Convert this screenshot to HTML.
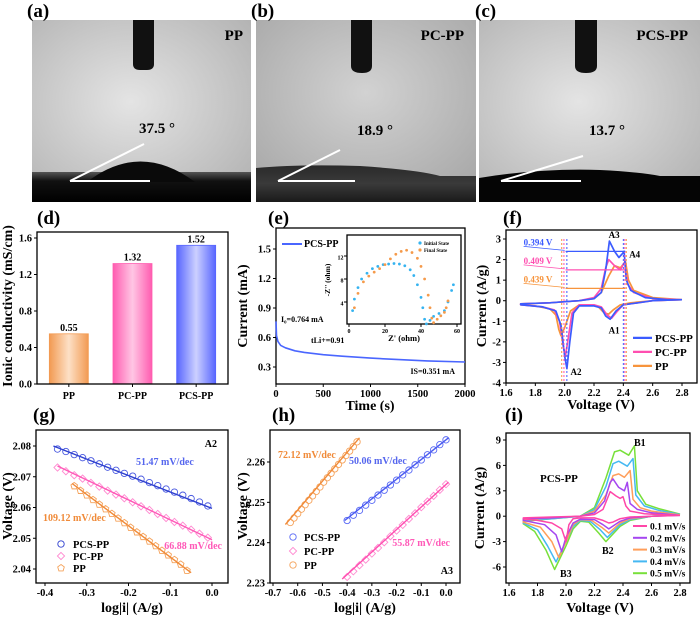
<!DOCTYPE html>
<html><head><meta charset="utf-8">
<style>
html,body{margin:0;padding:0;background:#fff;}
svg{display:block;font-family:"Liberation Serif",serif;font-weight:bold;}
</style></head>
<body>
<svg id="fig" width="700" height="618" viewBox="0 0 700 618" xmlns="http://www.w3.org/2000/svg">
<defs>
<radialGradient id="bgA" cx="0.45" cy="0.45" r="0.7"><stop offset="0" stop-color="#e4e4e4"/><stop offset="1" stop-color="#b4b4b4"/></radialGradient>
<radialGradient id="bgB" cx="0.5" cy="0.4" r="0.7"><stop offset="0" stop-color="#d2d2d2"/><stop offset="1" stop-color="#a8a8a8"/></radialGradient>
<linearGradient id="darkA" x1="0" y1="0" x2="0" y2="1"><stop offset="0" stop-color="#555"/><stop offset="0.3" stop-color="#111"/><stop offset="1" stop-color="#000"/></linearGradient>
<linearGradient id="darkB" x1="0" y1="0" x2="0" y2="1"><stop offset="0" stop-color="#2a2a2a"/><stop offset="0.5" stop-color="#3a3a3a"/><stop offset="1" stop-color="#1a1a1a"/></linearGradient>
<linearGradient id="barO" x1="0" x2="1"><stop offset="0" stop-color="#f29a52"/><stop offset="0.5" stop-color="#fde0c6"/><stop offset="1" stop-color="#f29a52"/></linearGradient>
<linearGradient id="barP" x1="0" x2="1"><stop offset="0" stop-color="#ff5cb0"/><stop offset="0.5" stop-color="#ffc6e4"/><stop offset="1" stop-color="#ff5cb0"/></linearGradient>
<linearGradient id="barB" x1="0" x2="1"><stop offset="0" stop-color="#5866ff"/><stop offset="0.5" stop-color="#ccd0ff"/><stop offset="1" stop-color="#5866ff"/></linearGradient>
</defs>

<g>
<rect x="32" y="20" width="219" height="182" fill="url(#bgA)"/>
<rect x="32" y="172" width="219" height="30" fill="url(#darkA)"/>
<path d="M87,182 Q140,141 195,182 Z" fill="#0a0a0a"/>
<path d="M133,20 L154,20 L154,64 Q154,70 147,70 L140,70 Q133,70 133,64 Z" fill="#111"/>
<line x1="70" y1="181" x2="144" y2="144" stroke="#fff" stroke-width="2"/>
<line x1="70" y1="181" x2="150" y2="181" stroke="#fff" stroke-width="2"/>
<text x="157" y="133" font-size="15" text-anchor="middle">37.5 °</text>
<text x="243" y="40" font-size="15" text-anchor="end">PP</text>
</g>
<g>
<rect x="256" y="20" width="220" height="182" fill="url(#bgB)"/>
<path d="M256,202 L256,168 Q300,164 360,166 Q420,170 440,176 L476,176 L476,202 Z" fill="url(#darkB)"/>
<path d="M351,20 L372,20 L372,66 Q372,73 362,73 Q351,73 351,66 Z" fill="#111"/>
<line x1="278" y1="181" x2="340" y2="150" stroke="#fff" stroke-width="2"/>
<line x1="278" y1="181" x2="355" y2="181" stroke="#fff" stroke-width="2"/>
<text x="375" y="135" font-size="15" text-anchor="middle">18.9 °</text>
<text x="464" y="40" font-size="15" text-anchor="end">PC-PP</text>
</g>
<g>
<rect x="479" y="20" width="221" height="182" fill="url(#bgA)"/>
<path d="M479,202 L479,178 Q540,168 600,170 Q640,172 660,176 L700,176 L700,202 Z" fill="#050505"/>
<path d="M575,20 L597,20 L597,66 Q597,73 586,73 Q575,73 575,66 Z" fill="#111"/>
<line x1="501" y1="181" x2="583" y2="156" stroke="#fff" stroke-width="2"/>
<line x1="501" y1="181" x2="581" y2="181" stroke="#fff" stroke-width="2"/>
<text x="607" y="135" font-size="15" text-anchor="middle">13.7 °</text>
<text x="688" y="40" font-size="15" text-anchor="end">PCS-PP</text>
</g>
<text x="27" y="17" font-size="19">(a)</text>
<text x="251" y="17" font-size="19">(b)</text>
<text x="475" y="17" font-size="19">(c)</text>
<text x="37" y="224" font-size="19">(d)</text>
<text x="268" y="224" font-size="19">(e)</text>
<text x="503" y="224" font-size="19">(f)</text>
<text x="33" y="421" font-size="19">(g)</text>
<text x="272" y="421" font-size="19">(h)</text>
<text x="505" y="421" font-size="19">(i)</text>
</svg>
<script>
const dCats=['PP','PC-PP','PCS-PP'];
const dVals=[0.55,1.32,1.52];
const dTicks=[0.0,0.4,0.8,1.2,1.6];

const eTime=[0,5,20,50,100,200,300,500,700,1000,1300,1600,2000];
const eCurr=[0.764,0.62,0.56,0.52,0.495,0.465,0.448,0.425,0.41,0.39,0.375,0.362,0.351];
const eXTicks=[0,500,1000,1500,2000];
const eYTicks=[0.3,0.6,0.9,1.2,1.5];
const insInitZr=[2,3,5,7,10,13,16,19,22,25,28,31,34,36,38,40,41,42,43,45,47,50,53,55,57,58];
const insInitZi=[2.5,4.5,6.5,8,9,9.8,10.2,10.5,10.6,10.7,10.6,10.3,9.6,8.6,7,4.8,3,1,0.2,0.8,1.5,2,2.5,4,6,7];
const insFinZr=[3,5,8,11,14,17,20,23,26,29,32,35,38,40,42,44,45,46,47,49,51,53,54,55];
const insFinZi=[3,5.5,7.5,8.5,9.2,9.8,10.5,11.5,12.3,12.8,13,12.6,11.6,10.2,8,5.2,3,1.2,0.4,1,1.6,2.2,3,4.2];

const fPCS=[[2.8,0.05],[2.6,0],[2.5,-0.1],[2.4,-0.2],[2.35,-0.5],[2.31,-0.9],[2.28,-0.75],[2.25,-0.35],[2.2,-0.25],[2.1,-0.25],[2.06,-0.6],[2.035,-2.0],[2.015,-3.3],[2.0,-2.7],[1.975,-1.2],[1.94,-0.5],[1.85,-0.3],[1.7,-0.2],[1.7,-0.15],[1.9,-0.1],[2.0,-0.05],[2.1,0],[2.2,0.1],[2.25,0.4],[2.28,1.5],[2.305,2.9],[2.34,2.4],[2.37,2.1],[2.395,2.3],[2.405,2.4],[2.42,1.0],[2.45,0.5],[2.55,0.15],[2.7,0.05],[2.8,0.05]];
const fPC=[[2.8,0.05],[2.6,0],[2.5,-0.1],[2.4,-0.2],[2.36,-0.5],[2.32,-0.85],[2.29,-0.7],[2.25,-0.3],[2.2,-0.2],[2.1,-0.2],[2.05,-0.6],[2.025,-1.8],[2.005,-2.7],[1.99,-2.2],[1.965,-1.0],[1.93,-0.45],[1.85,-0.3],[1.7,-0.2],[1.7,-0.15],[1.9,-0.1],[2.0,-0.05],[2.1,0],[2.2,0.15],[2.25,0.6],[2.28,1.6],[2.3,2.0],[2.34,1.7],[2.38,1.5],[2.41,1.9],[2.43,0.8],[2.47,0.4],[2.6,0.1],[2.8,0.05]];
const fPP=[[2.8,0.05],[2.6,0],[2.45,-0.1],[2.38,-0.2],[2.33,-0.45],[2.3,-0.65],[2.27,-0.6],[2.23,-0.3],[2.18,-0.2],[2.1,-0.2],[2.04,-0.5],[2.0,-1.3],[1.975,-1.7],[1.96,-1.4],[1.94,-0.7],[1.9,-0.4],[1.8,-0.25],[1.7,-0.2],[1.7,-0.15],[1.9,-0.1],[2.0,-0.05],[2.1,0],[2.2,0.1],[2.25,0.4],[2.3,1.2],[2.34,1.7],[2.38,1.6],[2.415,1.9],[2.435,1.0],[2.47,0.5],[2.6,0.15],[2.8,0.05]];
const fXTicks=[1.6,1.8,2.0,2.2,2.4,2.6,2.8];
const fYTicks=[-4,-3,-2,-1,0,1,2,3];

const gPcsX=[-0.37,-0.35,-0.33,-0.31,-0.29,-0.27,-0.25,-0.23,-0.21,-0.19,-0.17,-0.15,-0.13,-0.11,-0.09,-0.07,-0.05,-0.03,-0.01];
const gPcsY=[2.0790,2.0782,2.0772,2.0762,2.0752,2.0742,2.0731,2.0721,2.0711,2.0702,2.0692,2.0681,2.0671,2.0660,2.0650,2.0640,2.0629,2.0618,2.0605];
const gPcsFit=[[-0.38,2.0800],[0,2.0597]];
const gPcX=[-0.37,-0.35,-0.33,-0.31,-0.29,-0.27,-0.25,-0.23,-0.21,-0.19,-0.17,-0.15,-0.13,-0.11,-0.09,-0.07,-0.05,-0.03,-0.01];
const gPcY=[2.0730,2.0718,2.0705,2.0694,2.0680,2.0668,2.0655,2.0642,2.0630,2.0617,2.0604,2.0592,2.0579,2.0566,2.0553,2.0541,2.0528,2.0515,2.0502];
const gPcFit=[[-0.37,2.0735],[0,2.0495]];
const gPpX=[-0.33,-0.315,-0.30,-0.285,-0.27,-0.255,-0.24,-0.225,-0.21,-0.195,-0.18,-0.165,-0.15,-0.135,-0.12,-0.105,-0.09,-0.075,-0.06];
const gPpY=[2.0670,2.0655,2.0640,2.0625,2.0610,2.0595,2.0580,2.0565,2.0550,2.0535,2.0520,2.0505,2.0490,2.0475,2.0460,2.0445,2.0430,2.0415,2.0395];
const gPpFit=[[-0.335,2.0678],[-0.05,2.0388]];
const gXTicks=[-0.4,-0.3,-0.2,-0.1,0.0];
const gYTicks=[2.04,2.05,2.06,2.07,2.08];

const hPpX=[-0.63,-0.615,-0.60,-0.585,-0.57,-0.555,-0.54,-0.525,-0.51,-0.495,-0.48,-0.465,-0.45,-0.435,-0.42,-0.405,-0.39,-0.375,-0.36];
const hPpY=[2.2450,2.2461,2.2472,2.2483,2.2494,2.2505,2.2516,2.2527,2.2538,2.2550,2.2561,2.2572,2.2583,2.2594,2.2605,2.2616,2.2627,2.2638,2.2650];
const hPpFit=[[-0.65,2.2445],[-0.35,2.266]];
const hPcsX=[-0.4,-0.375,-0.35,-0.325,-0.3,-0.275,-0.25,-0.225,-0.2,-0.175,-0.15,-0.125,-0.1,-0.075,-0.05,-0.025,0];
const hPcsY=[2.2455,2.2468,2.2480,2.2493,2.2505,2.2518,2.2530,2.2543,2.2555,2.2568,2.2580,2.2593,2.2605,2.2618,2.2630,2.2643,2.2655];
const hPcsFit=[[-0.41,2.2455],[0.01,2.266]];
const hPcX=[-0.4,-0.375,-0.35,-0.325,-0.3,-0.275,-0.25,-0.225,-0.2,-0.175,-0.15,-0.125,-0.1,-0.075,-0.05,-0.025,0];
const hPcY=[2.2315,2.2329,2.2344,2.2358,2.2373,2.2387,2.2401,2.2416,2.2430,2.2444,2.2459,2.2473,2.2488,2.2502,2.2516,2.2531,2.2545];
const hPcFit=[[-0.42,2.231],[0.01,2.255]];
const hXTicks=[-0.7,-0.6,-0.5,-0.4,-0.3,-0.2,-0.1,0.0];
const hYTicks=[2.23,2.24,2.25,2.26];

const i01=[[2.8,0.1],[2.6,0],[2.45,-0.1],[2.38,-0.3],[2.33,-0.7],[2.3,-0.8],[2.26,-0.5],[2.2,-0.2],[2.1,-0.2],[2.05,-0.3],[2.02,-1.0],[2.0,-3.0],[1.97,-1.5],[1.9,-0.8],[1.8,-0.5],[1.7,-0.3],[1.7,-0.2],[1.9,-0.1],[2.1,0],[2.2,0.2],[2.26,0.8],[2.31,2.9],[2.35,2.4],[2.38,2.1],[2.40,2.3],[2.42,1.2],[2.45,0.6],[2.55,0.3],[2.7,0.15],[2.8,0.1]];
const i02=[[2.8,0.1],[2.6,0],[2.45,-0.2],[2.38,-0.6],[2.3,-1.5],[2.26,-1.0],[2.2,-0.4],[2.1,-0.35],[2.05,-0.8],[2.0,-2.5],[1.97,-4.2],[1.93,-2.2],[1.85,-1.0],[1.7,-0.5],[1.7,-0.3],[1.9,-0.2],[2.1,0],[2.2,0.4],[2.27,1.8],[2.31,4.0],[2.33,4.4],[2.37,3.4],[2.41,3.0],[2.43,4.0],[2.45,1.5],[2.5,0.8],[2.6,0.4],[2.8,0.1]];
const i03=[[2.8,0.15],[2.6,0],[2.45,-0.3],[2.38,-0.8],[2.3,-2.0],[2.25,-1.3],[2.18,-0.5],[2.1,-0.4],[2.05,-1.0],[2.0,-3.0],[1.95,-4.9],[1.9,-3.0],[1.82,-1.3],[1.7,-0.7],[1.7,-0.4],[1.9,-0.2],[2.1,0],[2.2,0.6],[2.28,2.5],[2.33,4.8],[2.37,5.0],[2.41,4.6],[2.45,5.4],[2.47,2.0],[2.52,1.0],[2.6,0.6],[2.8,0.15]];
const i04=[[2.8,0.2],[2.6,0],[2.45,-0.4],[2.38,-1.0],[2.29,-2.5],[2.24,-1.6],[2.17,-0.6],[2.1,-0.5],[2.05,-1.2],[2.0,-3.0],[1.93,-5.4],[1.87,-3.5],[1.8,-1.6],[1.7,-0.8],[1.7,-0.5],[1.9,-0.3],[2.1,0],[2.2,0.8],[2.28,3.5],[2.33,6.2],[2.37,6.5],[2.43,5.9],[2.47,6.8],[2.49,2.5],[2.55,1.2],[2.65,0.7],[2.8,0.2]];
const i05=[[2.8,0.25],[2.6,0],[2.45,-0.5],[2.38,-1.2],[2.28,-3.0],[2.23,-2.0],[2.16,-0.7],[2.1,-0.6],[2.05,-1.5],[2.0,-3.5],[1.92,-6.3],[1.86,-4.0],[1.78,-1.8],[1.7,-0.9],[1.7,-0.6],[1.9,-0.3],[2.1,0],[2.2,1.0],[2.28,4.5],[2.34,7.6],[2.38,7.8],[2.44,7.2],[2.48,8.3],[2.50,3.0],[2.56,1.4],[2.65,0.9],[2.8,0.25]];
const iRates=['0.1 mV/s','0.2 mV/s','0.3 mV/s','0.4 mV/s','0.5 mV/s'];
const iXTicks=[1.6,1.8,2.0,2.2,2.4,2.6,2.8];
const iYTicks=[-6,-3,0,3,6,9];

const NS='http://www.w3.org/2000/svg';
const svg=document.getElementById('fig');
function el(tag,attrs,parent){const e=document.createElementNS(NS,tag);for(const k in attrs)e.setAttribute(k,attrs[k]);(parent||svg).appendChild(e);return e;}
function txt(x,y,s,attrs,parent){const t=el('text',Object.assign({x:x,y:y},attrs||{}),parent);t.textContent=s;return t;}
function lin(d0,d1,r0,r1){return v=>r0+(v-d0)*(r1-r0)/(d1-d0);}
function fmt(v,n){return v.toFixed(n);}
function frame(g,x0,y0,x1,y1){const r=el('rect',{x:x0,y:y0,width:x1-x0,height:y1-y0,fill:'none',stroke:'#000','stroke-width':1.3},g);

}
function xTicks(g,ticks,xs,yb,dec,fs){ticks.forEach(v=>{const x=xs(v);
const l=el('line',{x1:x,y1:yb,x2:x,y2:yb+3,stroke:'#000','stroke-width':1},g);


const t=txt(x,yb+(fs?fs+3:13),fmt(v,dec),{'font-size':fs||10.5,'text-anchor':'middle'},g);

});}
function yTicks(g,ticks,ys,xl,dec,fs){ticks.forEach(v=>{const y=ys(v);
const l=el('line',{x1:xl-3,y1:y,x2:xl,y2:y,stroke:'#000','stroke-width':1},g);


const t=txt(xl-(fs?3.5:5),y+3.5,fmt(v,dec),{'font-size':fs||10.5,'text-anchor':'end'},g);

});}
function yTitle(g,x,y,s,fs){const t=txt(x,y,s,{'font-size':fs||14,'text-anchor':'middle',transform:'rotate(-90 '+x+' '+y+')'},g);

}
function xTitle(g,x,y,s,fs){const t=txt(x,y,s,{'font-size':fs||14,'text-anchor':'middle'},g);

}
function poly(g,pts,xs,ys,color,w,dash){const p=el('polyline',{points:pts.map(q=>xs(q[0]).toFixed(1)+','+ys(q[1]).toFixed(1)).join(' '),fill:'none',stroke:color,'stroke-width':w||1.6,'stroke-linejoin':'round'},g);if(dash)p.setAttribute('stroke-dasharray',dash);return p;}
function label(g,x,y,s,color,fs,anchor){const t=txt(x,y,s,{'font-size':fs||10,fill:color||'#000','text-anchor':anchor||'start'},g);

return t;}
function marker(g,shape,x,y,color){let m;
if(shape==='circle'){m=el('circle',{cx:x,cy:y,r:3.2,fill:'none',stroke:color,'stroke-width':0.9},g);}
else if(shape==='diamond'){m=el('polygon',{points:[x,y-3.6,x+3.6,y,x,y+3.6,x-3.6,y].join(','),fill:'none',stroke:color,'stroke-width':0.9},g);}
else {m=el('polygon',{points:[x,y-3.5,x+3.3,y-1.1,x+2.1,y+2.9,x-2.1,y+2.9,x-3.3,y-1.1].join(','),fill:'none',stroke:color,'stroke-width':0.9},g);}
return m;}

(function(){const g=el('g',{});


const X0=37,X1=228,Y0=232,Y1=384;const ys=lin(0,1.6,384,238);
const fills=['url(#barO)','url(#barP)','url(#barB)'];const strokes=['#f29a52','#ff5cb0','#5866ff'];
const bw=(X1-X0)/3;
dCats.forEach((c,i)=>{const cx=X0+bw*(i+0.5);const y=ys(dVals[i]);
const b=el('rect',{x:cx-19.5,y:y,width:39,height:384-y,fill:fills[i],stroke:strokes[i],'stroke-width':0.8},g);


const v=txt(cx,y-3,fmt(dVals[i],2),{'font-size':10,'text-anchor':'middle'},g);


const tk=el('line',{x1:cx,y1:Y1,x2:cx,y2:Y1+3,stroke:'#000'},g);


const t=txt(cx,Y1+15,c,{'font-size':10,'text-anchor':'middle'},g);

});
frame(g,X0,Y0,X1,Y1);
yTicks(g,dTicks,ys,X0,1);
yTitle(g,12,306,'Ionic conductivity (mS/cm)',14);})();

(function(){const g=el('g',{});


const X0=276,X1=465,Y0=228,Y1=384;const xs=lin(0,2000,276,465),ys=lin(0.3,1.5,367,249);
frame(g,X0,Y0,X1,Y1);
xTicks(g,eXTicks,xs,Y1,0);yTicks(g,eYTicks,ys,X0,1);
yTitle(g,247,306,'Current (mA)',14);xTitle(g,370,410,'Time (s)',14);
const pts=eTime.map((t,i)=>[t,eCurr[i]]);
const c=poly(g,pts,xs,ys,'#4a66ff',1.6);


const ll=el('line',{x1:282,y1:244,x2:302,y2:244,stroke:'#4a66ff','stroke-width':2},g);


label(g,304,247,'PCS-PP','#000',10);
label(g,281,322,'I₀=0.764 mA','#000',8);
label(g,311,343,'tLi+=0.91','#000',8);
label(g,455,374,'IS=0.351 mA','#000',8,'end');
const ig=el('g',{},g);


const IX0=347,IX1=461,IY0=235,IY1=324;const ixs=lin(0,60,349,457),iys=lin(0,12,325,256);
const bg=el('rect',{x:IX0,y:IY0,width:IX1-IX0,height:IY1-IY0,fill:'#fff'},ig);


frame(ig,IX0,IY0,IX1,IY1);
xTicks(ig,[0,20,40,60],ixs,IY1,0,6);yTicks(ig,[4,8,12],iys,IX0,0,6);
xTitle(ig,404,341,"Z' (ohm)",8.5);yTitle(ig,330,280,"-Z'' (ohm)",7.5);
insInitZr.forEach((z,i)=>{const m=el('circle',{cx:ixs(z),cy:iys(insInitZi[i]),r:1.4,fill:'#35b3f0'},ig);

});
insFinZr.forEach((z,i)=>{const m=el('circle',{cx:ixs(z),cy:iys(insFinZi[i]),r:1.4,fill:'#f59a4a'},ig);

});
const l1=el('circle',{cx:420,cy:243,r:1.6,fill:'#35b3f0'},ig);


label(ig,424,245,'Initial State','#000',5);
const l2=el('circle',{cx:420,cy:250,r:1.6,fill:'#f59a4a'},ig);


label(ig,424,252,'Final State','#000',5);})();

(function(){const g=el('g',{});


const X0=506,X1=697,Y0=230,Y1=383;const xs=lin(1.6,2.8,506,682),ys=lin(-4,3,383,239);
frame(g,X0,Y0,X1,Y1);
xTicks(g,fXTicks,xs,Y1,1);yTicks(g,fYTicks,ys,X0,0);
yTitle(g,486,306,'Current (A/g)',14);xTitle(g,601,409,'Voltage (V)',14);
const cols={pcs:'#3b5bff',pc:'#ff4fb0',pp:'#f7943c'};
const a=poly(g,fPP,xs,ys,cols.pp,1.7);
const b=poly(g,fPC,xs,ys,cols.pc,1.7);
const c=poly(g,fPCS,xs,ys,cols.pcs,1.7);
[[2.015,2.4,cols.pcs],[1.995,2.41,cols.pc],[1.98,2.42,cols.pp]].forEach(d=>{
[d[0],d[1]].forEach(v=>{const l=el('line',{x1:xs(v),y1:ys(3),x2:xs(v),y2:ys(-4),stroke:d[2],'stroke-width':1,'stroke-dasharray':'2,2'},g);

});});
[[2.4,cols.pcs,'0.394 V'],[1.5,cols.pc,'0.409 V'],[0.6,cols.pp,'0.439 V']].forEach((d,k)=>{const y=ys(d[0]);
const l=el('line',{x1:xs(2.02)-2,y1:y,x2:xs(2.4)+2,y2:y,stroke:d[1],'stroke-width':1.2},g);


const ar=el('line',{x1:xs(2.0),y1:y-1,x2:xs(1.72),y2:y-5,stroke:d[1],'stroke-width':0.8},g);


label(g,xs(1.72),y-6,d[2],d[1],9);});
label(g,xs(2.3),ys(3)-1,'A3','#000',9);label(g,xs(2.44),ys(2.1),'A4','#000',9);
label(g,xs(2.3),ys(-1.6),'A1','#000',9);label(g,xs(2.04),ys(-3.6),'A2','#000',9);
[['PCS-PP',cols.pcs],['PC-PP',cols.pc],['PP',cols.pp]].forEach((d,k)=>{const y=ys(-2)+k*14-4;
const s=el('line',{x1:633,y1:y,x2:652,y2:y,stroke:d[1],'stroke-width':2.2},g);


const t=txt(655,y+4,d[0],{'font-size':11},g);

});})();

(function(){const g=el('g',{});


const X0=36,X1=228,Y0=430,Y1=583;const xs=lin(-0.4,0,45,212),ys=lin(2.04,2.08,569,446);
frame(g,X0,Y0,X1,Y1);
xTicks(g,gXTicks,xs,Y1,1);yTicks(g,gYTicks,ys,X0,2);
yTitle(g,12,506,'Voltage (V)',14);xTitle(g,132,612,'log|i| (A/g)',14);
const sets=[[gPcsX,gPcsY,gPcsFit,'#2e3fcf','#4a5ae0','circle','pcs-pp'],[gPcX,gPcY,gPcFit,'#ff5ab8','#ff8ad0','diamond','pc-pp'],[gPpX,gPpY,gPpFit,'#f08a38','#f5a25a','pent','pp']];
sets.forEach(s=>{s[0].forEach((x,i)=>{const m=marker(g,s[5],xs(x),ys(s[1][i]),s[4]);

});
const f=poly(g,s[2],xs,ys,s[3],1.4);

});
label(g,136,465,'51.47 mV/dec','#5566ee',10);
label(g,222,549,'66.88 mV/dec','#ff5ab8',10,'end');
label(g,43,521,'109.12 mV/dec','#f08a38',10);
label(g,217,447,'A2','#000',10,'end');
[['PCS-PP','#2e3fcf','circle'],['PC-PP','#ff8ad0','diamond'],['PP','#f5a25a','pent']].forEach((d,k)=>{const y=544+k*12;
const m=marker(g,d[2],61,y,d[1]);


const t=txt(73,y+4,d[0],{'font-size':10.5},g);

});})();

(function(){const g=el('g',{});


const X0=270,X1=460,Y0=430,Y1=583;const xs=lin(-0.7,0,273,446),ys=lin(2.23,2.26,583,462);
frame(g,X0,Y0,X1,Y1);
xTicks(g,hXTicks,xs,Y1,1);yTicks(g,hYTicks,ys,X0,2);
yTitle(g,247,506,'Voltage (V)',14);xTitle(g,365,612,'log|i| (A/g)',14);
const sets=[[hPpX,hPpY,hPpFit,'#f08a38','#f5a25a','circle','pp'],[hPcsX,hPcsY,hPcsFit,'#4a5af0','#5a6af5','circle','pcs-pp'],[hPcX,hPcY,hPcFit,'#ff4fb0','#ff8ad0','diamond','pc-pp']];
sets.forEach(s=>{s[0].forEach((x,i)=>{const m=marker(g,s[5],xs(x),ys(s[1][i]),s[4]);

});
const f=poly(g,s[2],xs,ys,s[3],1.4);

});
label(g,278,458,'72.12 mV/dec','#f08a38',10);
label(g,349,464,'50.06 mV/dec','#5566ee',10);
label(g,450,546,'55.87 mV/dec','#ff5ab8',10,'end');
label(g,453,574,'A3','#000',10,'end');
[['PCS-PP','#5a6af5','circle'],['PC-PP','#ff8ad0','diamond'],['PP','#f5a25a','circle']].forEach((d,k)=>{const y=537+k*14;
const m=marker(g,d[2],293,y,d[1]);


const t=txt(304,y+4,d[0],{'font-size':10.5},g);

});})();

(function(){const g=el('g',{});


const X0=506,X1=690,Y0=433,Y1=583;const xs=lin(1.6,2.8,509,680),ys=lin(-6,9,567,440);
frame(g,X0,Y0,X1,Y1);
xTicks(g,iXTicks,xs,Y1,1);yTicks(g,iYTicks,ys,X0,0);
yTitle(g,484,508,'Current (A/g)',14);xTitle(g,600,612,'Voltage (V)',14);
const series=[i05,i04,i03,i02,i01];const cols=['#78e03a','#45b8f2','#ff9e5a','#a546f0','#ff46a8'];
series.forEach((s,k)=>{const p=poly(g,s,xs,ys,cols[k],1.5);

});
label(g,540,482,'PCS-PP','#000',11);
label(g,634,446,'B1','#000',10);label(g,602,554,'B2','#000',10);label(g,560,577,'B3','#000',10);
const lc=['#ff46a8','#a546f0','#ff9e5a','#45b8f2','#78e03a'];
iRates.forEach((r,k)=>{const y=526+k*11.8;
const s=el('line',{x1:633,y1:y,x2:647,y2:y,stroke:lc[k],'stroke-width':2},g);


const t=txt(650,y+3.5,r,{'font-size':9.5},g);

});})();
</script>
</body></html>
